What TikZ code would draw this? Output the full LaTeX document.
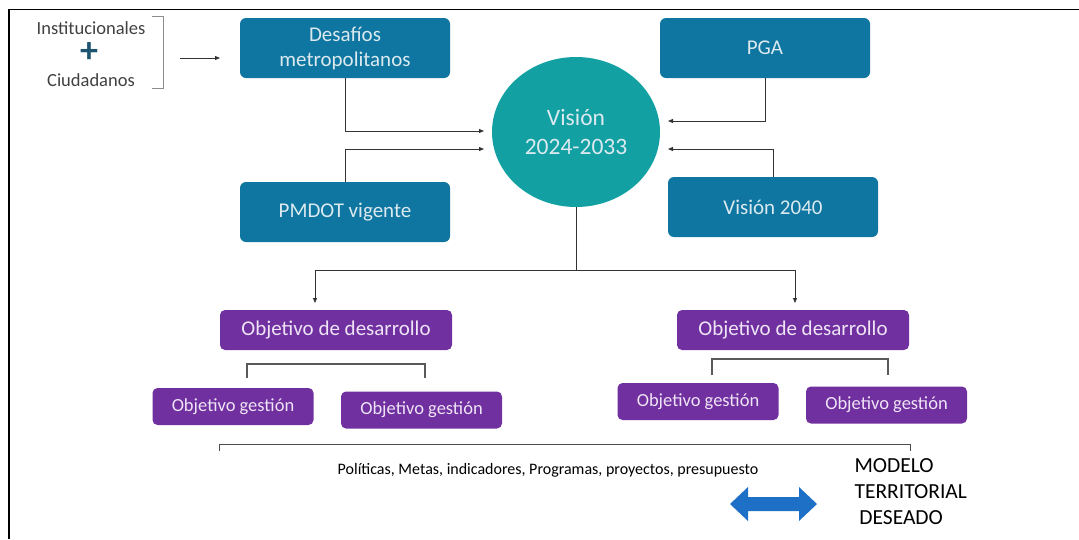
\documentclass[tikz,border=0pt]{standalone}
\usepackage{fontspec}
\setmainfont{Carlito}
\usetikzlibrary{shapes.arrows,shapes.geometric,arrows.meta}
\definecolor{tealbox}{HTML}{0E76A0}
\definecolor{circ}{HTML}{12A0A3}
\definecolor{purp}{HTML}{7030A0}
\definecolor{boxtxt}{HTML}{DCEAF0}
\definecolor{purtxt}{HTML}{EFE4F6}
\definecolor{bluearr}{HTML}{1E6FC6}
\definecolor{plus}{HTML}{1C5470}
\begin{document}
\begin{tikzpicture}[x=1pt,y=-1pt,
  bluebox/.style={draw=none,fill=tealbox,rounded corners=6pt,minimum width=210pt,minimum height=60pt,text=boxtxt,font=\fontsize{21}{25}\selectfont,align=center,inner sep=0pt},
  devbox/.style={fill=purp,rounded corners=5pt,minimum width=232pt,minimum height=40pt,text=purtxt,font=\fontsize{21}{24}\selectfont,inner sep=0pt},
  gestbox/.style={fill=purp,rounded corners=5pt,minimum width=161pt,minimum height=37pt,text=purtxt,font=\fontsize{18.5}{20}\selectfont,inner sep=0pt},
  conn/.style={draw=black!80,line width=0.8pt},
  arr/.style={conn,-{Triangle[length=5pt,width=4pt]}},
  brk/.style={draw=black!65,line width=1.2pt}
]
\useasboundingbox (0,0) rectangle (1079,539);
% frame
\draw[line width=1.5pt] (8,9.5) -- (1079,9.5);
\draw[line width=1.5pt] (9,9.5) -- (9,539);
% inputs
\node[font=\fontsize{18.5}{20}\selectfont,text=black!75] (inst) at (91,28) {Institucionales};
\node[font=\fontsize{36}{36}\selectfont\bfseries,text=plus] (plus) at (89,53) {+};
\node[font=\fontsize{18.5}{20}\selectfont,text=black!75] (ciud) at (91,80) {Ciudadanos};
\draw[draw=black!45,line width=0.8pt] (152,16) -- (163,16) -- (163,88) -- (152,88);
\coordinate (inA) at (180,58);
\coordinate (inB) at (220,58);
\draw[arr] (inA) -- (inB);
% blue boxes
\node[bluebox] (desa) at (345,48) {Desafíos\\metropolitanos};
\node[bluebox] (pga) at (765,48) {PGA};
\node[bluebox] (pmdot) at (345,212) {PMDOT vigente};
\node[bluebox] (v2040) at (773,207) {Visión 2040};
% circle
\node[ellipse,fill=circ,minimum width=168pt,minimum height=150pt,inner sep=0pt,text=boxtxt,font=\fontsize{23.5}{29}\selectfont,align=center] (vis) at (576,132) {Visión\\2024-2033};
% connectors into circle
\draw[arr] (desa.south) |- (484,131);
\draw[arr] (pmdot.north) |- (484,149);
\draw[arr] (pga.south) |- (668,121);
\draw[arr] (v2040.north) |- (668,149);
% lower
\node[devbox] (od1) at (336,330) {Objetivo de desarrollo};
\node[devbox] (od2) at (793,330) {Objetivo de desarrollo};
\coordinate (split) at (576,270);
\draw[conn] (vis.south) -- (split);
\draw[arr] (split) -| (315,303);
\draw[arr] (split) -| (795,303);
\node[gestbox] (g1) at (233,406.5) {Objetivo gestión};
\node[gestbox] (g2) at (421.5,410) {Objetivo gestión};
\node[gestbox] (g3) at (698,401.5) {Objetivo gestión};
\node[gestbox] (g4) at (886.5,405) {Objetivo gestión};
\draw[brk] (247,378) -- (247,364) -- (425,364) -- (425,378);
\draw[brk] (712,375) -- (712,359) -- (888,359) -- (888,375);
\draw[draw=black!70,line width=0.9pt] (219,451) -- (219,444) -- (910,444) -- (910,451);
\node[font=\fontsize{16}{18}\selectfont] (pol) at (548,470) {Políticas, Metas, indicadores, Programas, proyectos, presupuesto};
\fill[bluearr] (730,504) -- (748,487) -- (748,497) -- (799,497) -- (799,487) -- (817,504) -- (799,521) -- (799,511) -- (748,511) -- (748,521) -- cycle;
\node[font=\fontsize{21.5}{26}\selectfont,align=left,anchor=north west] (mod) at (851,455) {MODELO\\TERRITORIAL\\\ DESEADO};
\end{tikzpicture}
\end{document}
